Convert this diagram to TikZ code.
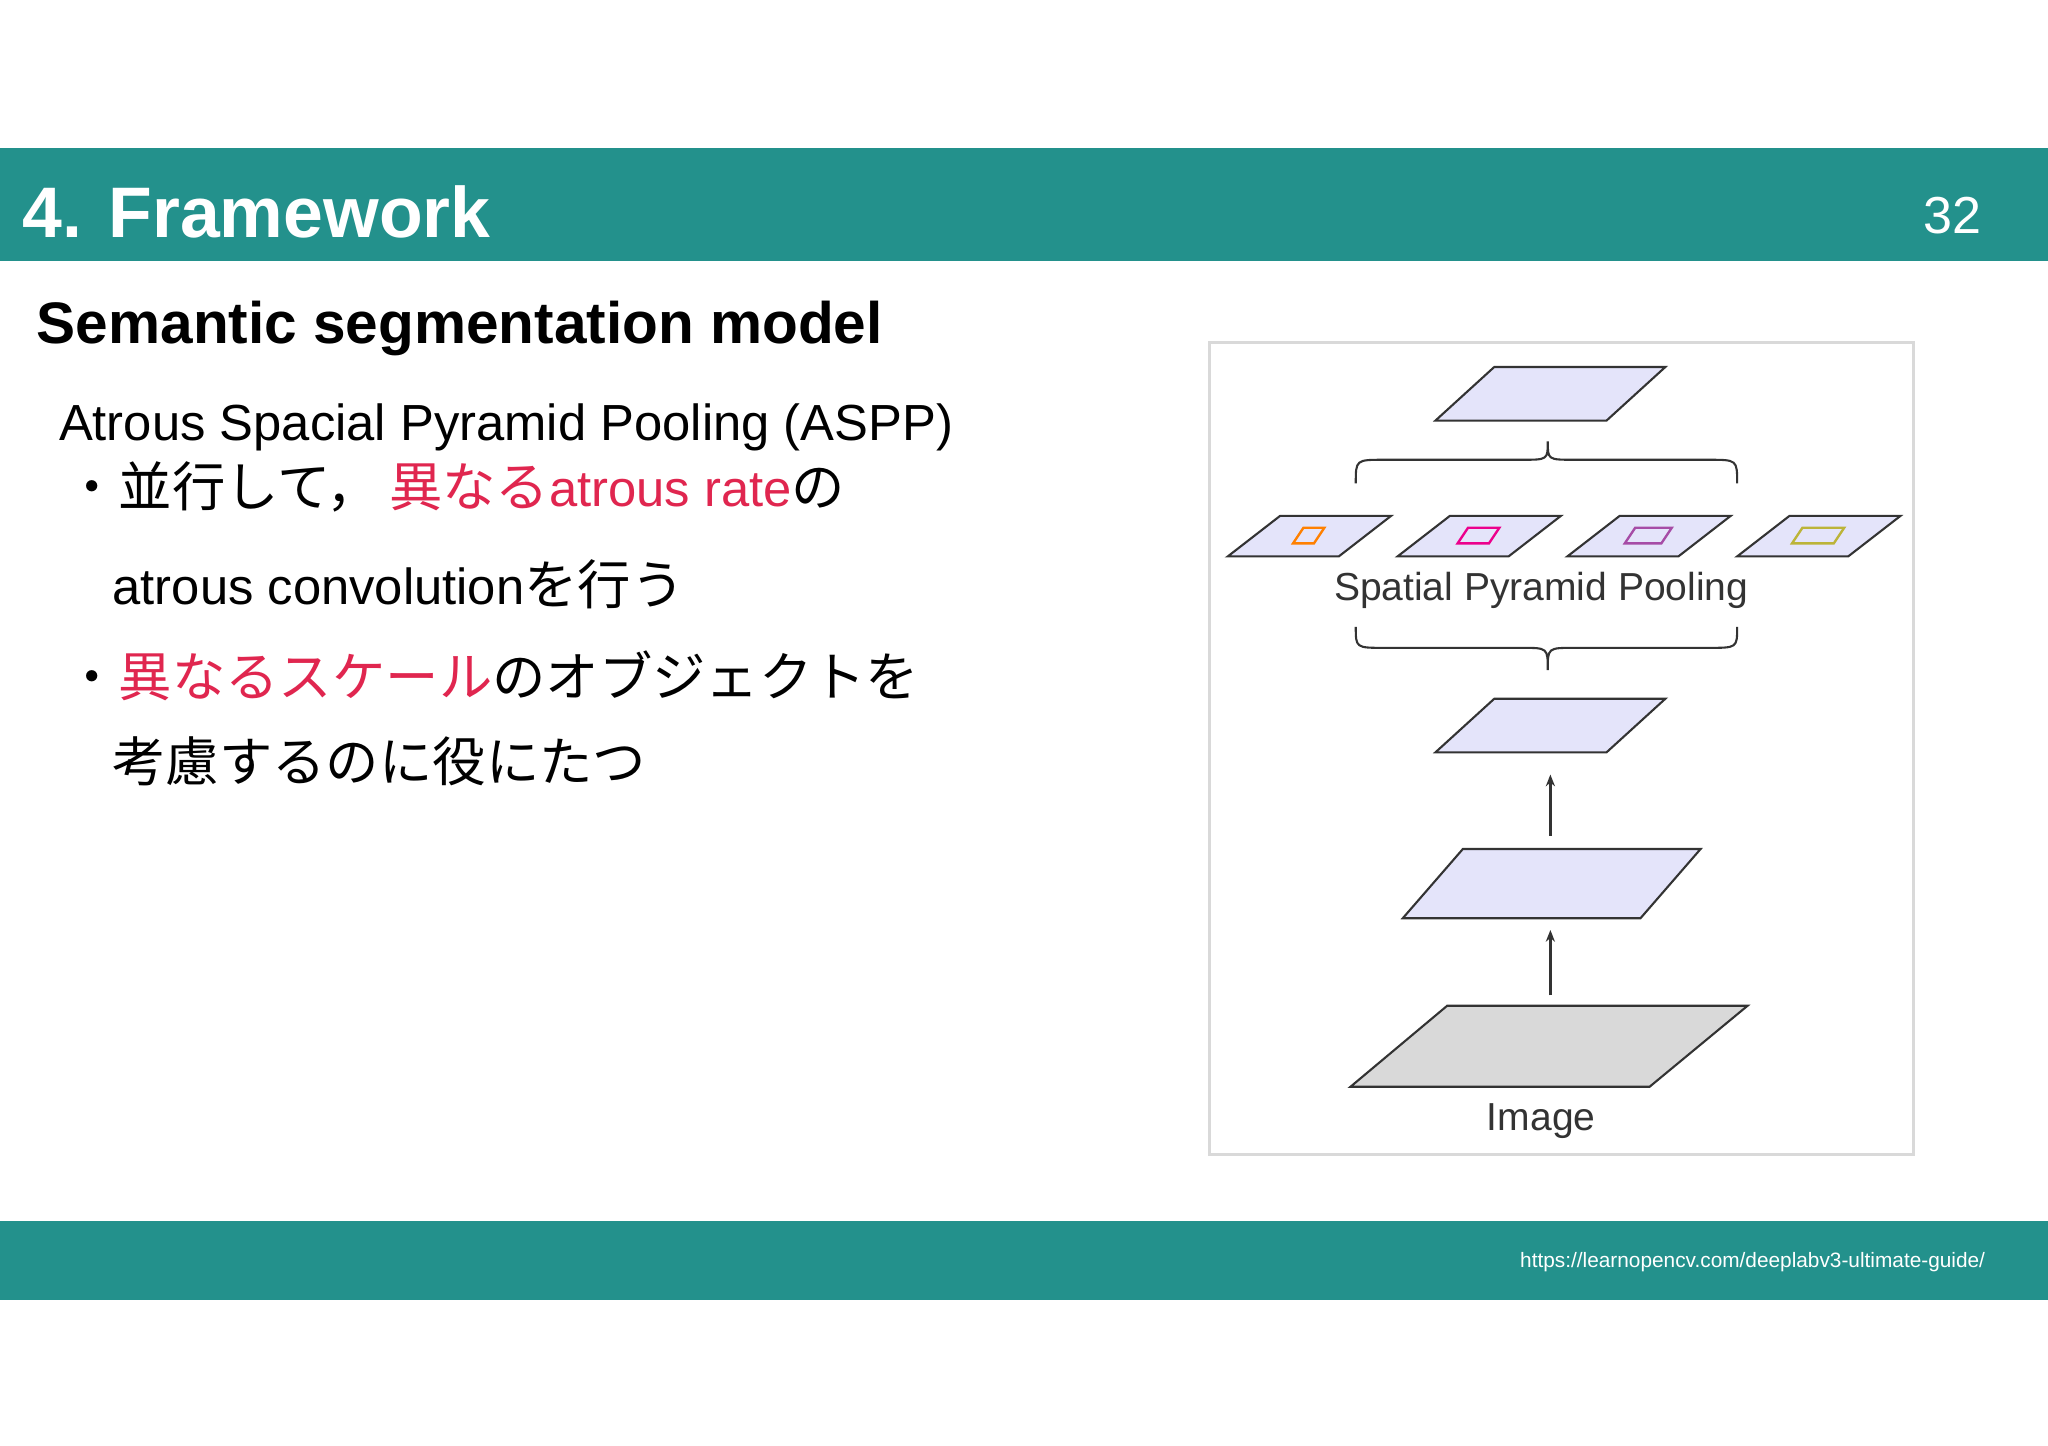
\documentclass[tikz,border=0pt]{standalone}
\usepackage{fontspec}
\usetikzlibrary{arrows.meta}
\setmainfont{Liberation Sans}
\newfontfamily\cjk{Noto Sans CJK JP}
\definecolor{teal1}{HTML}{23918C}
\definecolor{red1}{HTML}{E0264F}
\definecolor{lav}{HTML}{E4E4FA}
\begin{document}
\begin{tikzpicture}[x=1bp,y=-1bp,
  para/.style={draw=black!80,line width=1.6bp,fill=lav},
  brc/.style={draw=black!80,line width=1.6bp},
  arr/.style={draw=black!80,line width=1.8bp,-{Stealth[length=9bp,width=7bp]}},
  txt/.style={inner sep=0,anchor=base west}]
\useasboundingbox (0,0) rectangle (1568,1107);
\fill[white] (0,0) rectangle (1568,1107);
\fill[teal1] (0,113) rectangle (1568,200);
\fill[teal1] (0,935) rectangle (1568,995);
\node[txt,text=white,font=\bfseries\fontsize{55}{60}\selectfont] (title) at (17,182) {4. Framework};
\node[inner sep=0,text=white,font=\fontsize{40}{44}\selectfont] (pg) at (1495,165) {32};
\node[inner sep=0,anchor=east,text=white,font=\fontsize{16}{18}\selectfont] (url) at (1520,966) {https://learnopencv.com/deeplabv3-ultimate-guide/};
\node[txt,font=\bfseries\fontsize{45}{48}\selectfont] (sub) at (28,263) {Semantic segmentation model};
\node[txt,font=\fontsize{39}{44}\selectfont] (l1) at (45,337) {Atrous Spacial Pyramid Pooling (ASPP)};
\node[txt,font=\fontsize{39}{44}\selectfont] (l2) at (50,388) {{\cjk\fontsize{41}{44}\selectfont ・並行して，\,}\textcolor{red1}{{\cjk\fontsize{41}{44}\selectfont 異なる}atrous rate}{\cjk\fontsize{41}{44}\selectfont の}};
\node[txt,font=\fontsize{39}{44}\selectfont] (l3) at (86,463) {atrous convolution{\cjk\fontsize{41}{44}\selectfont を行う}};
\node[txt,font=\cjk\fontsize{41}{44}\selectfont] (l4) at (50,533) {・\textcolor{red1}{異なるスケール}のオブジェクトを};
\node[txt,font=\cjk\fontsize{41}{44}\selectfont] (l5) at (86,598) {考慮するのに役にたつ};
% figure
\draw[black!15,line width=2bp] (926,262) rectangle (1465,884);
\draw[para] (1099,322) -- (1230,322) -- (1275,281) -- (1144,281) -- cycle;
\draw[brc] (1038,370) .. controls (1038,352) .. (1060,352) -- (1165,352) .. controls (1185,352) .. (1185,338) .. controls (1185,352) .. (1205,352) -- (1308,352) .. controls (1330,352) .. (1330,370);
\foreach \x/\c/\w in {940/orange/12,1070/magenta/16,1200/violet!70/18,1330/yellow!70!black/20}{
  \draw[para] (\x,426) -- (\x+85,426) -- (\x+125,395) -- (\x+40,395) -- cycle;
  \draw[\c,line width=1.8bp] (\x+62-\w,416) -- (\x+62+\w-8,416) -- (\x+62+\w,404) -- (\x+62-\w+8,404) -- cycle;
}
\node[inner sep=0,font=\fontsize{30}{32}\selectfont,text=black!80] (spp) at (1180,452) {Spatial Pyramid Pooling};
\draw[brc] (1038,480) .. controls (1038,496) .. (1060,496) -- (1165,496) .. controls (1185,496) .. (1185,513) .. controls (1185,496) .. (1205,496) -- (1308,496) .. controls (1330,496) .. (1330,480);
\draw[para] (1099,576) -- (1230,576) -- (1275,535) -- (1144,535) -- cycle;
\draw[para] (1074,703) -- (1256,703) -- (1302,650) -- (1120,650) -- cycle;
\draw[para,fill=black!15] (1034,832) -- (1263,832) -- (1338,770) -- (1108,770) -- cycle;
\coordinate (a1s) at (1187,640); \coordinate (a1e) at (1187,593);
\coordinate (a2s) at (1187,762); \coordinate (a2e) at (1187,712);
\draw[arr] (a1s) -- (a1e);
\draw[arr] (a2s) -- (a2e);
\node[inner sep=0,font=\fontsize{30}{32}\selectfont,text=black!80] (img) at (1180,858) {Image};
\end{tikzpicture}
\end{document}
